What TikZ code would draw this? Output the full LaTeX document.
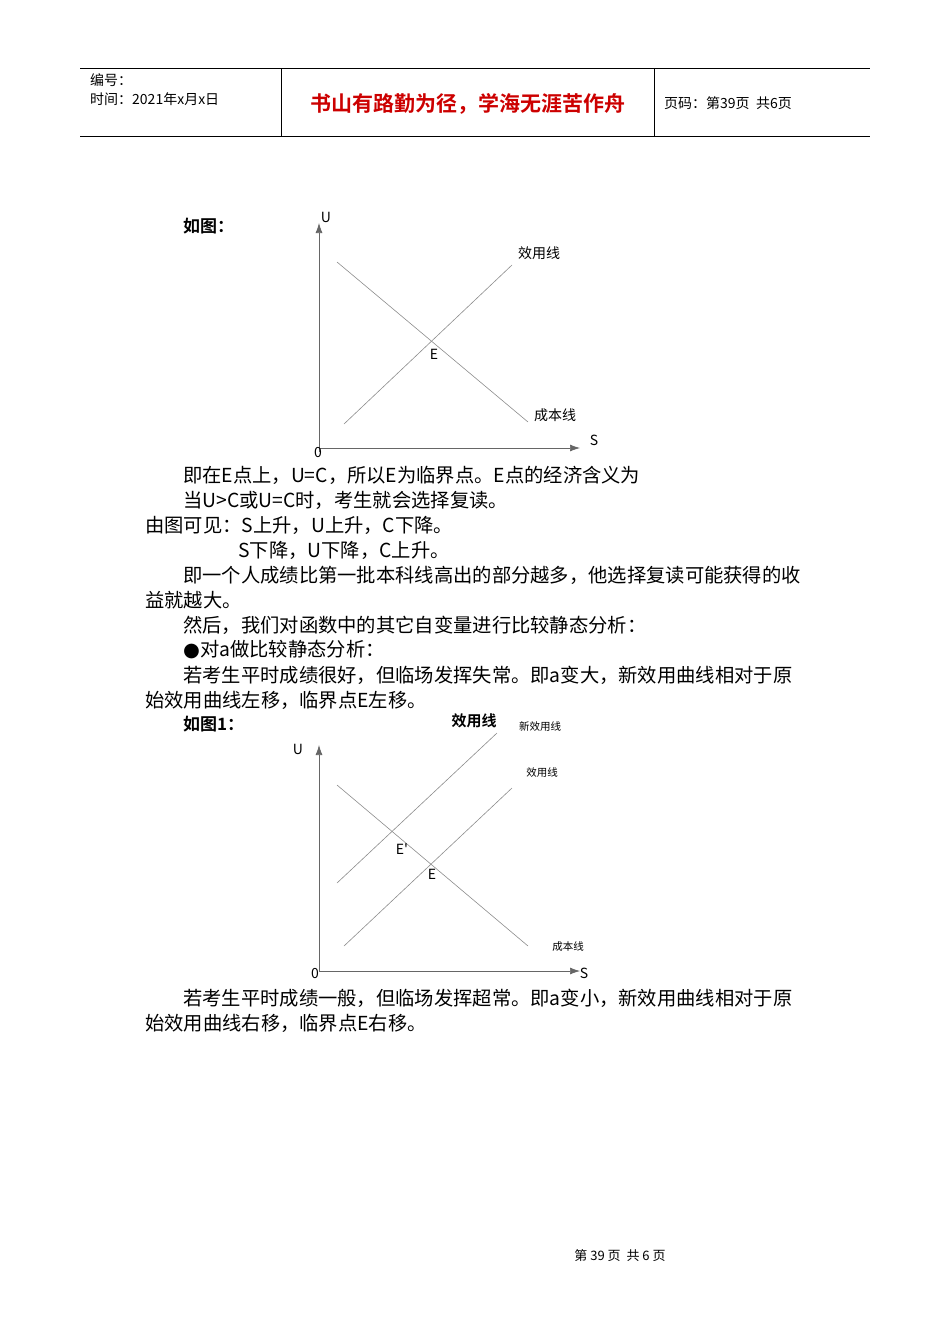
\documentclass[tikz,border=0pt]{standalone}
\usepackage{fontspec}
\usetikzlibrary{arrows.meta}
\setmainfont{Liberation Serif}
\newfontfamily\cjk{Noto Sans CJK SC}
\newfontfamily\cjkb{Noto Sans CJK SC Bold}
\begin{document}
\begin{tikzpicture}[x=1pt,y=-1pt,
 txt/.style={anchor=west,inner sep=0,font=\cjk\fontsize{19.3}{20}\selectfont},
 sm/.style={inner sep=0,font=\cjk\fontsize{14}{15}\selectfont},
 tiny/.style={inner sep=0,font=\cjk\fontsize{10.5}{12}\selectfont},
 ln/.style={draw=black!45,line width=0.6pt},
 ax/.style={draw=black!60,line width=0.7pt,-{Latex[length=10pt,width=7pt]}}]
\useasboundingbox (0,0) rectangle (950,1344);
\draw[line width=0.6pt] (80,68) -- (870,68) (80,136) -- (870,136) (281,68) -- (281,136) (654,68) -- (654,136);
\node[sm,anchor=west] (h1) at (90,80) {编号：};
\node[sm,anchor=west] (h2) at (90,99) {时间：2021年x月x日};
\node[inner sep=0,font=\cjkb\fontsize{21}{22}\selectfont,text=red!80!black] (title) at (468,104) {书山有路勤为径，学海无涯苦作舟};
\node[sm,anchor=west] (h3) at (664,103) {页码：第39页\ \ 共6页};
% graph 1
\node[txt,font=\cjkb\fontsize{17}{18}\selectfont] (r1) at (183,226) {如图：};
\coordinate (o1) at (319,452);
\coordinate (yt1) at (319,223);
\coordinate (xt1) at (580,448);
\draw[ax] (o1) -- (yt1);
\draw[ax] (319,448) -- (xt1);
\node[sm] (U1) at (326,217) {U};
\node[sm] (S1) at (594,440) {S};
\node[sm] (O1) at (318,453) {0};
\coordinate (a1) at (344,424); \coordinate (a2) at (512,265);
\coordinate (b1) at (337,262); \coordinate (b2) at (528,422);
\draw[ln] (a1) -- (a2); \draw[ln] (b1) -- (b2);
\node[sm] (E1) at (434,354) {E};
\node[sm] (xy1) at (539,253) {效用线};
\node[sm] (cb1) at (555,415) {成本线};
% text
\node[txt] (t1) at (183,475) {即在E点上，U=C，所以E为临界点。E点的经济含义为};
\node[txt] (t2) at (183,500) {当U>C或U=C时，考生就会选择复读。};
\node[txt] (t3) at (145,525) {由图可见：S上升，U上升，C下降。};
\node[txt] (t4) at (238,550) {S下降，U下降，C上升。};
\node[txt] (t5) at (183,575) {即一个人成绩比第一批本科线高出的部分越多，他选择复读可能获得的收};
\node[txt] (t6) at (145,600) {益就越大。};
\node[txt] (t7) at (183,625) {然后，我们对函数中的其它自变量进行比较静态分析：};
\node[txt] (t8) at (183,650) {\fontspec{DejaVu Sans}●\cjk 对a做比较静态分析：};
\node[txt] (t9) at (183,675) {若考生平时成绩很好，但临场发挥失常。即a变大，新效用曲线相对于原};
\node[txt] (t10) at (145,700) {始效用曲线左移，临界点E左移。};
\node[txt,font=\cjkb\fontsize{17}{18}\selectfont] (r2) at (183,724) {如图1：};
\node[sm,font=\cjkb\fontsize{15}{16}\selectfont] (xy2a) at (474,721) {效用线};
\node[tiny] (nxy) at (540,727) {新效用线};
% graph 2
\draw[ax] (319,972) -- (319,745);
\draw[ax] (319,971) -- (580,971);
\node[sm] (U2) at (298,749) {U};
\node[sm] (S2) at (584,973) {S};
\node[sm] (O2) at (315,973) {0};
\coordinate (n1) at (337,883); \coordinate (n2) at (497,733);
\coordinate (c1) at (344,946); \coordinate (c2) at (512,788);
\coordinate (d1) at (337,785); \coordinate (d2) at (528,946);
\draw[ln] (n1) -- (n2); \draw[ln] (c1) -- (c2); \draw[ln] (d1) -- (d2);
\node[sm] (Ep) at (402,849) {E'};
\node[sm] (E2) at (432,874) {E};
\node[tiny] (xy2) at (542,773) {效用线};
\node[tiny] (cb2) at (568,947) {成本线};
\node[txt] (t11) at (183,998) {若考生平时成绩一般，但临场发挥超常。即a变小，新效用曲线相对于原};
\node[txt] (t12) at (145,1023) {始效用曲线右移，临界点E右移。};
\node[inner sep=0,font=\cjk\fontsize{13}{14}\selectfont] (ft) at (620,1256) {第\ 39\ 页\ \ 共\ 6\ 页};
\end{tikzpicture}
\end{document}
